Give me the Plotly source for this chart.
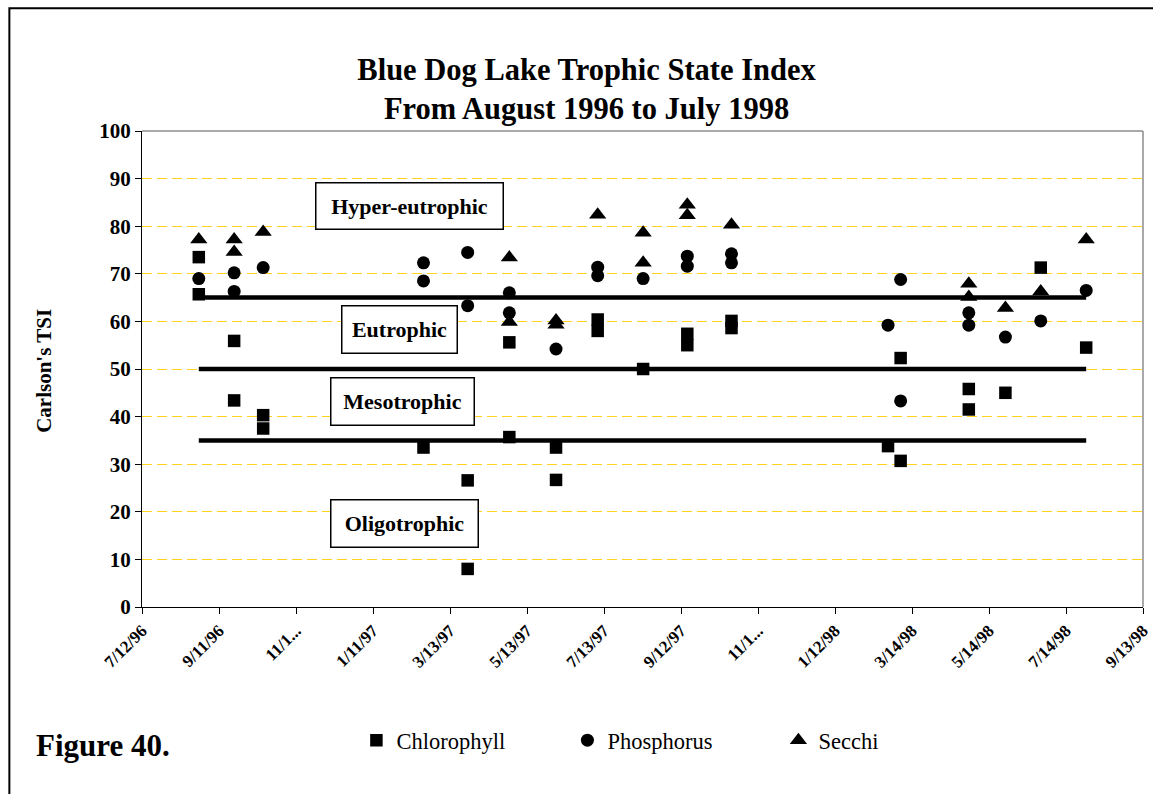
import plotly.graph_objects as go

# Sampling dates and Carlson's TSI values for each indicator
chl_dates = ["1996-08-26", "1996-08-26", "1996-09-23", "1996-09-23", "1996-10-16", "1996-10-16",
             "1997-02-20", "1997-03-27", "1997-03-27", "1997-04-29", "1997-04-29",
             "1997-06-05", "1997-06-05", "1997-07-08", "1997-07-08", "1997-08-13",
             "1997-09-17", "1997-09-17", "1997-10-22", "1997-10-22", "1998-02-23",
             "1998-03-05", "1998-03-05", "1998-04-28", "1998-04-28", "1998-05-27",
             "1998-06-24", "1998-07-30"]
chl_values = [73.5, 65.7, 55.9, 43.4, 40.3, 37.5,
              33.5, 26.6, 8.0, 55.6, 35.7,
              33.5, 26.7, 60.4, 58.0, 50.0,
              57.4, 55.0, 60.1, 58.6, 33.8,
              52.3, 30.7, 45.8, 41.5, 45.0,
              71.3, 54.5]

tp_dates = ["1996-08-26", "1996-09-23", "1996-09-23", "1996-10-16",
            "1997-02-20", "1997-02-20", "1997-03-27", "1997-03-27", "1997-04-29", "1997-04-29",
            "1997-06-05", "1997-07-08", "1997-07-08", "1997-08-13", "1997-09-17", "1997-09-17",
            "1997-10-22", "1997-10-22", "1998-02-23", "1998-03-05", "1998-03-05",
            "1998-04-28", "1998-04-28", "1998-05-27", "1998-06-24", "1998-07-30"]
tp_values = [69.0, 70.2, 66.3, 71.3,
             72.3, 68.5, 74.5, 63.3, 66.0, 61.8,
             54.2, 71.4, 69.6, 69.0, 73.7, 71.6,
             74.2, 72.3, 59.2, 68.8, 43.3,
             61.8, 59.2, 56.7, 60.1, 66.5]

sd_dates = ["1996-08-26", "1996-09-23", "1996-09-23", "1996-10-16",
            "1997-04-29", "1997-04-29", "1997-06-05", "1997-06-05", "1997-07-08",
            "1997-08-13", "1997-08-13", "1997-09-17", "1997-09-17", "1997-10-22",
            "1998-04-28", "1998-04-28", "1998-05-27", "1998-06-24", "1998-07-30"]
sd_values = [77.2, 77.2, 74.6, 78.8,
             73.4, 59.9, 60.2, 59.3, 82.4,
             78.6, 72.3, 84.5, 82.3, 80.3,
             67.9, 65.1, 62.8, 66.3, 77.2]

# Trophic class boundaries drawn across the sampling period
boundary_values = [65, 50, 35]
boundary_span = ["1996-08-26", "1998-07-30"]

class_labels = ["Hyper-eutrophic", "Eutrophic", "Mesotrophic", "Oligotrophic"]

tick_dates = ["1996-07-12", "1996-09-11", "1996-11-11", "1997-01-11", "1997-03-13",
              "1997-05-13", "1997-07-13", "1997-09-12", "1997-11-12", "1998-01-12",
              "1998-03-14", "1998-05-14", "1998-07-14", "1998-09-13"]
tick_text = ["7/12/96", "9/11/96", "11/1...", "1/11/97", "3/13/97", "5/13/97", "7/13/97",
             "9/12/97", "11/1...", "1/12/98", "3/14/98", "5/14/98", "7/14/98", "9/13/98"]

SERIF = "Liberation Serif"

fig = go.Figure()

for v in boundary_values:
    fig.add_trace(go.Scatter(
        x=boundary_span, y=[v, v], mode="lines",
        line=dict(color="black", width=4.5),
        showlegend=False, hoverinfo="skip"))

fig.add_trace(go.Scatter(
    x=chl_dates, y=chl_values, mode="markers", name="Chlorophyll",
    marker=dict(symbol="square", size=12.5, color="black")))
fig.add_trace(go.Scatter(
    x=tp_dates, y=tp_values, mode="markers", name="Phosphorus",
    marker=dict(symbol="circle", size=13, color="black")))
fig.add_trace(go.Scatter(
    x=sd_dates, y=sd_values, mode="markers", name="Secchi",
    marker=dict(symbol="triangle-up", size=15, color="black")))

# Boxed trophic class labels
label_pos = [(0.267, 0.842, 186, 45), (0.2577, 0.583, 114, 46),
             (0.260, 0.432, 142, 46), (0.262, 0.176, 146, 46)]
for text, (px, py, w, h) in zip(class_labels, label_pos):
    fig.add_annotation(
        x=px, y=py, xref="paper", yref="paper", text="<b>%s</b>" % text,
        showarrow=False, xanchor="center", yanchor="middle",
        width=w, height=h, borderpad=0, borderwidth=1.5, bordercolor="black",
        bgcolor="white", font=dict(family=SERIF, size=22, color="black"))

fig.add_annotation(
    x=-0.0975, y=0.497, xref="paper", yref="paper", text="<b>Carlson's TSI</b>",
    textangle=-90, showarrow=False, xanchor="center", yanchor="middle",
    font=dict(family=SERIF, size=21, color="black"))

fig.add_annotation(
    x=-0.1075, y=-0.2905, xref="paper", yref="paper", text="<b>Figure 40.</b>",
    showarrow=False, xanchor="left", yanchor="middle",
    font=dict(family=SERIF, size=31, color="black"))

# Plot-area border (top/right in grey) and outer frame
fig.add_shape(type="line", xref="paper", yref="paper", x0=0, x1=1, y0=1, y1=1,
              line=dict(color="#8c8c8c", width=1.5), layer="above")
fig.add_shape(type="line", xref="paper", yref="paper", x0=1, x1=1, y0=0, y1=1,
              line=dict(color="#8c8c8c", width=1.5), layer="above")
fig.add_shape(type="rect", xref="paper", yref="paper", x0=-0.1325, x1=1.05,
              y0=-0.6, y1=1.2578, line=dict(color="black", width=2), layer="above")

fig.update_layout(
    width=1153, height=794,
    margin=dict(l=142, r=10, t=131, b=187, autoexpand=False),
    paper_bgcolor="white", plot_bgcolor="white",
    title=dict(text="<b>Blue Dog Lake Trophic State Index<br>From August 1996 to July 1998</b>",
               x=0.5087, xref="container", xanchor="center",
               y=1 - 79.5 / 794, yref="container", yanchor="middle",
               font=dict(family=SERIF, size=30.5, color="black")),
    font=dict(family=SERIF, color="black"),
    showlegend=True,
    legend=dict(orientation="h", x=0.2142, y=-0.2805, xanchor="left", yanchor="middle",
                xref="paper", yref="paper", entrywidth=166, entrywidthmode="pixels",
                font=dict(family=SERIF, size=22.5, color="black"), bgcolor="rgba(0,0,0,0)",
                itemsizing="trace"),
    hovermode=False,
)

fig.update_xaxes(
    type="date", range=["1996-07-12", "1998-09-13"],
    tickmode="array", tickvals=tick_dates,
    ticktext=["<b>%s</b>" % t for t in tick_text],
    tickangle=-45, ticks="outside", ticklen=6, tickcolor="black",
    showline=True, linecolor="black", linewidth=1.2,
    showgrid=False, zeroline=False, automargin=False,
    tickfont=dict(family=SERIF, size=17, color="black"),
)
fig.update_yaxes(
    range=[0, 100], tickmode="linear", tick0=0, dtick=10,
    ticks="outside", ticklen=6, tickcolor="black",
    showline=True, linecolor="black", linewidth=1.2,
    showgrid=True, gridcolor="#FFD21F", gridwidth=1, griddash="10px,5px",
    zeroline=False, automargin=False,
    tickprefix="<b>", ticksuffix="</b>",
    tickfont=dict(family=SERIF, size=21, color="black"),
)

fig.write_html("out.html")
